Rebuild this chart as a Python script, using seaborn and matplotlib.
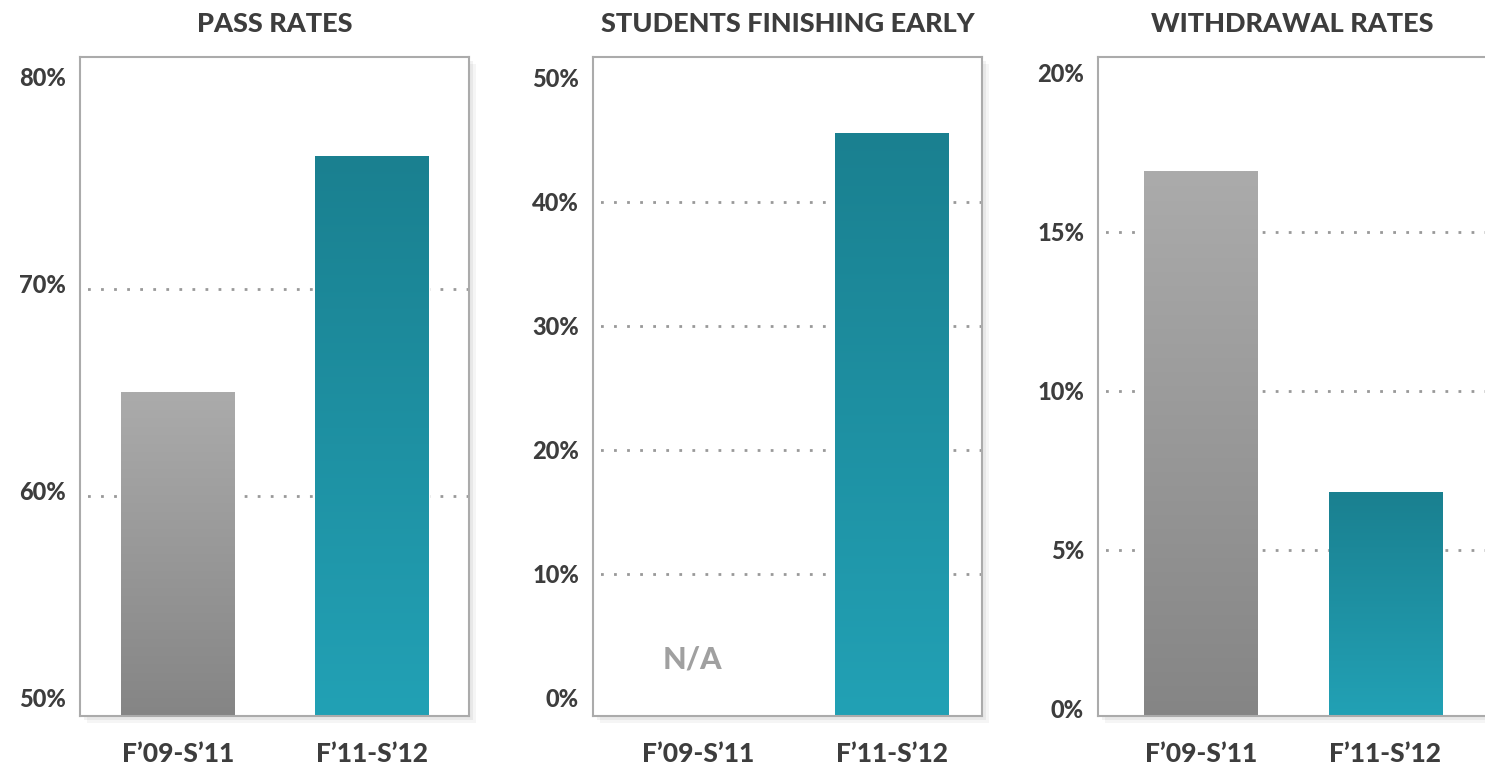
import numpy as np
import matplotlib
matplotlib.use("Agg")
import matplotlib.pyplot as plt
import matplotlib.patheffects as pe
from matplotlib.colors import LinearSegmentedColormap
from matplotlib.ticker import FixedLocator, FuncFormatter
from matplotlib.transforms import ScaledTranslation
import seaborn as sns

# data
periods = ["F\u201909-S\u201911", "F\u201911-S\u201912"]
titles = ["PASS RATES", "STUDENTS FINISHING EARLY", "WITHDRAWAL RATES"]
pass_rates = [65.0, 76.4]
finishing_early = [np.nan, 45.6]  # no data for the first period
withdrawal_rates = [16.9, 6.8]
pass_ticks = [50, 60, 70, 80]
early_ticks = [0, 10, 20, 30, 40, 50]
withdrawal_ticks = [0, 5, 10, 15, 20]

# colours: (top, bottom) of each bar gradient
GREY = ("#ababab", "#858585")
TEAL = ("#1a8090", "#22a1b5")
TEXT = "#3d3d3d"
WEIGHT = 900


def draw_panel(ax, title, values, ticks, ylim, xlim, width, label_shift):
    sns.barplot(x=periods, y=values, hue=periods, palette=[GREY[0], TEAL[0]],
                legend=False, width=width, saturation=1, ax=ax, zorder=2)

    # bars run down to the bottom frame, filled with a vertical gradient
    for patch in list(ax.patches):
        h = patch.get_height()
        if not np.isfinite(h) or h == 0:
            continue
        y1 = patch.get_y() + h
        patch.set_y(ylim[0])
        patch.set_height(y1 - ylim[0])
        x0, w = patch.get_x(), patch.get_width()
        idx = int(round(x0 + w / 2))
        top, bottom = (GREY, TEAL)[idx]
        cmap = LinearSegmentedColormap.from_list("bar", [bottom, top])
        grad = np.linspace(0, 1, 256).reshape(-1, 1)
        im = ax.imshow(grad, extent=[x0, x0 + w, ylim[0], y1], origin="lower",
                       aspect="auto", cmap=cmap, zorder=2.1,
                       interpolation="bilinear")
        im.set_clip_path(patch)

    ax.set_xlim(*xlim)
    ax.set_ylim(*ylim)
    ax.set_xlabel("")
    ax.set_ylabel("")

    ax.yaxis.set_major_locator(FixedLocator(ticks))
    ax.yaxis.set_minor_locator(FixedLocator(ticks[1:-1]))
    ax.yaxis.remove_overlapping_locs = False
    ax.yaxis.set_major_formatter(FuncFormatter(lambda v, p: f"{v:.0f}%"))
    ax.grid(False)
    ax.grid(axis="y", which="minor", color="#999999", linewidth=2.0,
            linestyle=(2, (1, 3.7)))
    ax.set_axisbelow(True)

    ax.tick_params(axis="both", which="both", length=0)
    ax.tick_params(axis="y", pad=10, labelsize=17, labelcolor=TEXT)
    ax.tick_params(axis="x", pad=19, labelsize=19, labelcolor=TEXT)
    for lab in ax.get_yticklabels():
        lab.set_fontweight(WEIGHT)
        lab.set_transform(lab.get_transform() + ScaledTranslation(
            0, label_shift, ax.figure.dpi_scale_trans))
    for lab in ax.get_xticklabels():
        lab.set_fontweight(WEIGHT)

    for spine in ax.spines.values():
        spine.set_visible(True)
        spine.set_color("#ababab")
        spine.set_linewidth(1.5)
    ax.patch.set_facecolor("white")
    ax.patch.set_path_effects([
        pe.SimplePatchShadow(offset=(5, -5), shadow_rgbFace="black", alpha=0.04),
        pe.SimplePatchShadow(offset=(3, -3), shadow_rgbFace="black", alpha=0.05),
        pe.Normal(),
    ])

    ax.set_title(title, fontsize=19.5, fontweight=WEIGHT, color=TEXT, pad=18)


def main():
    sns.set_theme(style="white")
    plt.rcParams["font.family"] = ["Lato", "DejaVu Sans"]

    fig = plt.figure(figsize=(14.85, 7.67), dpi=100)
    bottom, height, w = 51 / 767, 659 / 767, 389 / 1485
    ax1 = fig.add_axes([80 / 1485, bottom, w, height])
    ax2 = fig.add_axes([593 / 1485, bottom, w, height])
    ax3 = fig.add_axes([1098 / 1485, bottom, w, height])

    draw_panel(ax1, titles[0], pass_rates, pass_ticks,
               (49.37, 81.2), (-0.505, 1.5), 0.585, 0.05)
    draw_panel(ax2, titles[1], finishing_early, early_ticks,
               (-1.45, 51.7), (-0.54, 1.465), 0.585, 0.01)
    draw_panel(ax3, titles[2], withdrawal_rates, withdrawal_ticks,
               (-0.24, 20.5), (-0.557, 1.55), 0.615, 0.0)

    ax2.text(-0.03, 3.1, "N/A", ha="center", va="center", fontsize=22,
             fontweight=WEIGHT, color="#a0a0a0")

    fig.savefig("out.png", dpi=100)


if __name__ == "__main__":
    main()
